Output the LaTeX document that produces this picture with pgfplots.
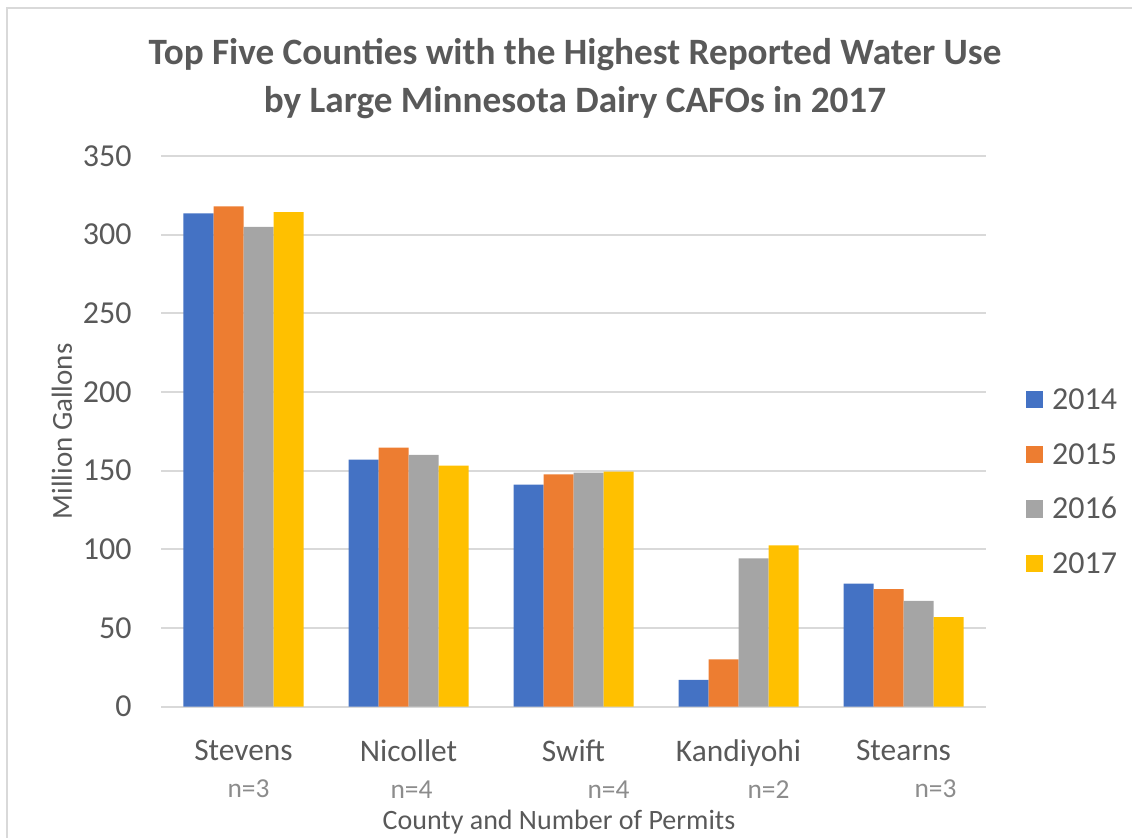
\documentclass[border=0pt]{standalone}
\usepackage{fontspec}
\setmainfont{Carlito}
\usepackage{pgfplots}
\pgfplotsset{compat=1.18}

\definecolor{txt}{HTML}{595959}
\definecolor{ntxt}{HTML}{8C8C8C}
\definecolor{gridc}{HTML}{D9D9D9}
\definecolor{c14}{HTML}{4472C4}
\definecolor{c15}{HTML}{ED7D31}
\definecolor{c16}{HTML}{A5A5A5}
\definecolor{c17}{HTML}{FFC000}

% second line of a tick label: permit count, shifted right
\newcommand\nlab[2]{\hspace*{#1}{\fontsize{13.7}{18.5}\selectfont\color{ntxt}#2}}

\begin{document}
\begin{tikzpicture}
\useasboundingbox (0,0) rectangle (566pt,-418.5pt);
\draw[color=gridc, line width=1pt] (3.5pt,-425pt) -- (3.5pt,-4pt) -- (575pt,-4pt);

\node[anchor=base, font=\fontsize{18.6}{24}\selectfont\bfseries, text=txt]
  at (287.5pt,-32pt) {Top Five Counties with the Highest Reported Water Use};
\node[anchor=base, font=\fontsize{18.6}{24}\selectfont\bfseries, text=txt]
  at (287.5pt,-56pt) {by Large Minnesota Dairy CAFOs in 2017};

\begin{axis}[
    at={(80.5pt,-353.35pt)}, anchor=south west,
    scale only axis,
    width=412.5pt, height=275.35pt,
    ybar=0pt, bar width=15pt,
    xmin=-0.5, xmax=4.5,
    ymin=0, ymax=350,
    ytick={0,50,...,350},
    xtick={0,1,2,3,4},
    xticklabels={
        {Stevens\\\nlab{5pt}{n=3}},
        {Nicollet\\\nlab{3pt}{n=4}},
        {Swift\\\nlab{35pt}{n=4}},
        {Kandiyohi\\\nlab{30pt}{n=2}},
        {Stearns\\\nlab{32pt}{n=3}}},
    axis line style={draw=none},
    major tick length=0pt,
    ymajorgrids,
    major grid style={color=gridc, line width=1pt},
    tick label style={text=txt},
    /pgf/number format/assume math mode=true,
    yticklabel style={font=\fontsize{16}{19}\selectfont, inner sep=0pt, xshift=-14.5pt},
    xticklabel style={font=\fontsize{15.7}{18.5}\selectfont, align=center, anchor=north, inner sep=0pt, yshift=-16.5pt},
    ylabel={Million Gallons},
    xlabel={County and Number of Permits},
    every axis y label/.style={at={(axis description cs:0,0.5)}, xshift=-49.5pt, rotate=90, anchor=center, font=\fontsize{14.5}{16}\selectfont, text=txt},
    every axis x label/.style={at={(axis description cs:0.4824,0)}, yshift=-57.5pt, anchor=center, font=\fontsize{14}{16}\selectfont, text=txt},
    legend style={at={(1.048,0.4086)}, anchor=west, draw=none, fill=none, inner sep=0pt,
        font=\fontsize{16}{19}\selectfont, text=txt, row sep=15.3pt,
        nodes={inner sep=1pt, text height=10pt, text depth=0pt},
        cells={anchor=west},
        /tikz/every odd column/.style={column sep=3.5pt}},
    legend image code/.code={\fill[#1] (0pt,-4.3pt) rectangle (8.6pt,4.3pt);},
]
\addplot[fill=c14, draw=none] coordinates {(0,313.6) (1,157.0) (2,141.1) (3,17.0) (4,78.2)};
\addplot[fill=c15, draw=none] coordinates {(0,318.0) (1,164.6) (2,147.7) (3,30.1) (4,74.8)};
\addplot[fill=c16, draw=none] coordinates {(0,305.0) (1,160.0) (2,148.7) (3,94.3) (4,67.2)};
\addplot[fill=c17, draw=none] coordinates {(0,314.4) (1,153.2) (2,149.4) (3,102.6) (4,57.0)};
\legend{2014,2015,2016,2017}
\end{axis}
\end{tikzpicture}
\end{document}
